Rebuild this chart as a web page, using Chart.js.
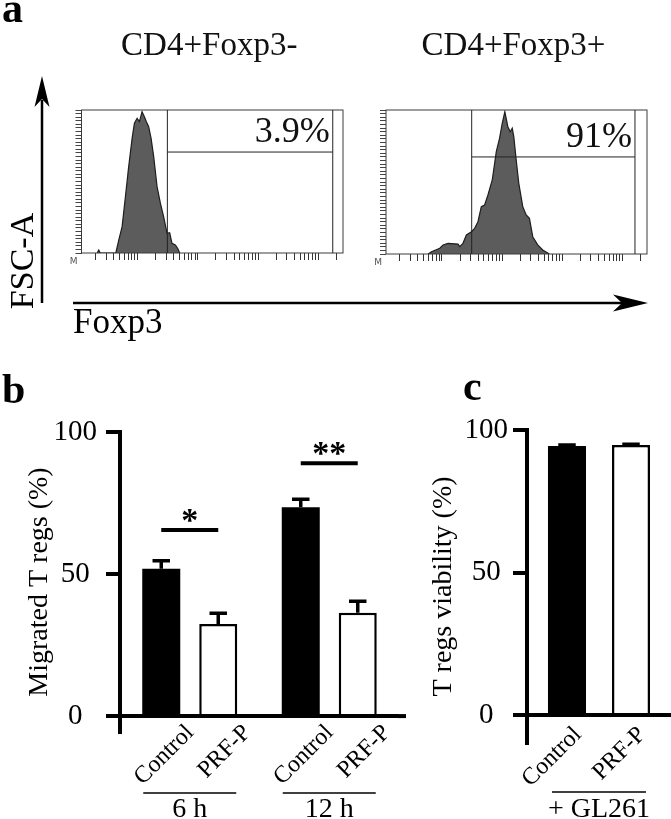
<!DOCTYPE html>
<html lang="en">
<head>
<meta charset="UTF-8">
<title>Treg migration and viability</title>
<style>
  body { margin: 0; background: #fff; }
  #page { position: relative; width: 671px; height: 819px; background: #fff; }
  #page canvas { position: absolute; left: 0; top: 0; }
</style>
</head>
<body>
<div id="page">
  <canvas id="histNeg" width="671" height="819"></canvas>
  <canvas id="histPos" width="671" height="819"></canvas>
  <canvas id="migration" width="671" height="819"></canvas>
  <canvas id="viability" width="671" height="819"></canvas>
</div>

<script src="https://cdn.jsdelivr.net/npm/chart.js"></script>
<script>
// ---- panel a: Foxp3 histograms (x = log decades, y = % of max count)
const histTitles = ['CD4+Foxp3-', 'CD4+Foxp3+'];
const negX = [0.33, 0.357, 0.38, 0.64, 0.688, 0.744, 0.799, 0.853, 0.91, 0.948, 0.993, 1.031, 1.075, 1.114,
              1.147, 1.185, 1.225, 1.268, 1.324, 1.379, 1.433, 1.49, 1.533, 1.572, 1.627, 1.665, 1.7];
const negY = [0, 2, 0, 0, 9, 18.4, 39.4, 60.4, 80.2, 90.7, 94.2, 91.9, 98.8, 95.3,
              91.8, 88.3, 80.2, 67.4, 46.4, 34.8, 25.4, 13.8, 14.2, 6.8, 5.6, 3.3, 0];
const posX = [0.771, 0.827, 0.964, 1.019, 1.102, 1.268, 1.296, 1.35, 1.407, 1.49, 1.544, 1.599, 1.655, 1.71,
              1.765, 1.837, 1.904, 1.958, 2.003, 2.046, 2.096, 2.136, 2.169, 2.195, 2.235, 2.278, 2.344,
              2.401, 2.455, 2.51, 2.593, 2.676, 2.787];
const posY = [0, 1.6, 4, 6.3, 7.4, 6.9, 5.1, 7.4, 13.2, 15.5, 17.8, 22.4, 32.9, 34,
              41, 51.4, 71.1, 80.3, 90.8, 98.8, 88.4, 84.9, 87.3, 81.5, 65.3, 49.1, 32.9,
              27.1, 24.8, 12, 6.3, 2.8, 0];
const gateFrom = [1.495, 1.495];
const gateTo = [4.24, 4.21];
const gateLevel = [70.6, 67.4];
const gateLabels = ['3.9%', '91%'];
const decades = [0, 1, 2, 3, 4];
const minorSteps = [1, 2, 3, 4, 5, 6, 7, 8, 9];

// ---- panel b: migrated Tregs
const timeGroups = ['6 h', '12 h'];
const treatments = ['Control', 'PRF-P'];
const migControl = [51.9, 73.5];
const migControlErr = [2.8, 2.8];
const migPrf = [32.4, 36.4];
const migPrfErr = [3.8, 4.0];
const sigLevel = [65.5, 89];
const sigMarks = ['*', '**'];

// ---- panel c: Treg viability
const viaGroups = ['+ GL261'];
const viaControl = [94.4];
const viaControlErr = [0.3];
const viaPrf = [94.7];
const viaPrfErr = [0.3];

const yTicks = [0, 50, 100];
const serif = 'Liberation Serif, Times New Roman, serif';

function histTickValues(min, max) {
  const out = [];
  decades.forEach(d => minorSteps.forEach(k => {
    const v = d + Math.log10(k);
    if (v >= min && v <= max) out.push({ value: v });
  }));
  return out;
}

function arrowHead(ctx, pts) {
  ctx.beginPath();
  ctx.moveTo(pts[0][0], pts[0][1]);
  pts.slice(1).forEach(p => ctx.lineTo(p[0], p[1]));
  ctx.closePath();
  ctx.fill();
}

// gate box, percentage, title for each histogram
const gatePlugin = {
  id: 'gate',
  afterDatasetsDraw(chart, args, opts) {
    const i = opts.index;
    const { ctx, chartArea: a, scales: { x, y } } = chart;
    ctx.save();
    ctx.strokeStyle = '#3c3c3c';
    ctx.lineWidth = 1;
    ctx.strokeRect(a.left, a.top, a.width, a.height);

    const gx0 = x.getPixelForValue(gateFrom[i]);
    const gx1 = x.getPixelForValue(gateTo[i]);
    const gy = y.getPixelForValue(gateLevel[i]);
    ctx.strokeStyle = '#222';
    ctx.beginPath();
    ctx.moveTo(gx0, a.top); ctx.lineTo(gx0, a.bottom);
    ctx.moveTo(gx1, a.top); ctx.lineTo(gx1, a.bottom);
    ctx.moveTo(gx0, gy); ctx.lineTo(gx1, gy);
    ctx.stroke();

    ctx.fillStyle = '#111';
    ctx.font = '36px ' + serif;
    ctx.textAlign = 'right';
    ctx.textBaseline = 'alphabetic';
    ctx.fillText(gateLabels[i], gx1 - 3, gy - 10);

    ctx.font = '33px ' + serif;
    ctx.textAlign = 'center';
    ctx.fillText(histTitles[i], (a.left + a.right) / 2 - 3, a.top - 55);

    ctx.font = '9px DejaVu Sans';
    ctx.fillStyle = '#555';
    ctx.textAlign = 'right';
    ctx.fillText('M', a.left - 4, a.bottom + 11);

    if (i === 0) {
      // panel letter, axis arrows and their labels
      ctx.fillStyle = '#000';
      ctx.strokeStyle = '#000';
      ctx.font = 'bold 42px ' + serif;
      ctx.textAlign = 'left';
      ctx.fillText('a', 2, 22);

      ctx.lineWidth = 2.5;
      ctx.beginPath();
      ctx.moveTo(42, 303); ctx.lineTo(42, 100);
      ctx.moveTo(73, 303); ctx.lineTo(625, 303);
      ctx.stroke();
      arrowHead(ctx, [[42, 76], [49.5, 107], [42, 99], [34.5, 107]]);
      arrowHead(ctx, [[648, 303], [613, 294.5], [622, 303], [613, 311.5]]);

      ctx.font = '35px ' + serif;
      ctx.fillText('Foxp3', 73, 333);
      ctx.font = '34px ' + serif;
      ctx.translate(33, 261);
      ctx.rotate(-Math.PI / 2);
      ctx.textAlign = 'center';
      ctx.fillText('FSC-A', 0, 0);
    }
    ctx.restore();
  }
};

function histChart(id, xs, ys, index, area) {
  const pts = xs.map((v, k) => ({ x: v, y: ys[k] }));
  return new Chart(document.getElementById(id), {
    type: 'line',
    data: {
      datasets: [{
        data: pts,
        fill: 'origin',
        backgroundColor: '#5c5c5c',
        borderColor: '#1e1e1e',
        borderWidth: 1.2,
        pointRadius: 0,
        tension: 0
      }]
    },
    options: {
      responsive: false,
      animation: false,
      layout: { padding: { left: area.l - 6, top: area.t, right: 671 - area.r, bottom: 819 - area.b - 8 } },
      plugins: { legend: { display: false }, tooltip: { enabled: false }, gate: { index } },
      scales: {
        x: {
          type: 'linear', min: 0.07, max: 4.41,
          afterBuildTicks: s => { s.ticks = histTickValues(0.07, 4.41); },
          afterFit: s => { s.height = 8; },
          ticks: { display: false },
          border: { display: false },
          grid: { drawOnChartArea: false, drawTicks: true, tickLength: 7, tickColor: '#333', tickWidth: 1 }
        },
        y: {
          min: 0, max: 100,
          afterBuildTicks: s => {
            const t = [];
            for (let v = 0; v <= 100; v += 2.5) t.push({ value: v });
            s.ticks = t;
          },
          afterFit: s => { s.width = 6; },
          ticks: { display: false },
          border: { display: false },
          grid: { drawOnChartArea: false, drawTicks: true, tickLength: 6, tickColor: '#444', tickWidth: 1 }
        }
      }
    },
    plugins: [gatePlugin]
  });
}

histChart('histNeg', negX, negY, 0, { l: 81.5, t: 110, r: 343, b: 253 });
histChart('histPos', posX, posY, 1, { l: 386, t: 110, r: 647, b: 254 });

// error bars, significance, bar labels and group underlines
const barDecor = {
  id: 'barDecor',
  afterDatasetsDraw(chart, args, o) {
    const { ctx, chartArea: a, scales: { y } } = chart;
    const zero = y.getPixelForValue(0);
    const metas = [chart.getDatasetMeta(0), chart.getDatasetMeta(1)];
    ctx.save();
    ctx.strokeStyle = '#000';
    ctx.fillStyle = '#000';

    // x axis runs a little past the last bar
    if (o.axisExt) {
      ctx.lineWidth = 4;
      ctx.beginPath();
      ctx.moveTo(a.right - 1, zero); ctx.lineTo(a.right + o.axisExt, zero);
      ctx.stroke();
    }

    // upper error bars
    ctx.lineWidth = 3.5;
    metas.forEach((meta, d) => {
      meta.data.forEach((bar, g) => {
        const top = y.getPixelForValue(o.values[d][g] + o.errors[d][g]);
        const half = bar.width * 0.23;
        ctx.beginPath();
        ctx.moveTo(bar.x, bar.y);
        ctx.lineTo(bar.x, top);
        ctx.moveTo(bar.x - half, top);
        ctx.lineTo(bar.x + half, top);
        ctx.stroke();
      });
    });

    // significance lines
    if (o.sig) {
      ctx.lineWidth = 4;
      ctx.font = 'bold 34px ' + serif;
      ctx.textAlign = 'center';
      ctx.textBaseline = 'alphabetic';
      o.sig.levels.forEach((lvl, g) => {
        const x0 = metas[0].data[g].x, x1 = metas[1].data[g].x;
        const py = y.getPixelForValue(lvl);
        ctx.beginPath();
        ctx.moveTo(x0, py); ctx.lineTo(x1, py);
        ctx.stroke();
        ctx.fillText(o.sig.marks[g], (x0 + x1) / 2, py + 1);
      });
    }

    // rotated treatment labels under each bar
    ctx.font = '24px ' + serif;
    ctx.textAlign = 'right';
    ctx.textBaseline = 'middle';
    metas.forEach((meta, d) => {
      meta.data.forEach(bar => {
        ctx.save();
        ctx.translate(bar.x + o.labelDx, zero + o.labelDy);
        ctx.rotate(-Math.PI / 4);
        ctx.fillText(treatments[d], 0, 0);
        ctx.restore();
      });
    });

    // group underline
    ctx.lineWidth = 1.5;
    metas[0].data.forEach((bar, g) => {
      const other = metas[1].data[g];
      ctx.beginPath();
      ctx.moveTo(bar.x - bar.width / 2 + o.lineInset, zero + 77);
      ctx.lineTo(other.x + other.width / 2 - o.lineInset, zero + 77);
      ctx.stroke();
    });

    ctx.font = 'bold 42px ' + serif;
    ctx.textAlign = 'left';
    ctx.textBaseline = 'alphabetic';
    ctx.fillText(o.letter, o.letterAt[0], o.letterAt[1]);
    ctx.restore();
  }
};

function barChart(id, s) {
  return new Chart(document.getElementById(id), {
    type: 'bar',
    data: {
      labels: s.groups,
      datasets: [
        { label: treatments[0], data: s.control, backgroundColor: '#000', borderWidth: 0 },
        { label: treatments[1], data: s.prf, backgroundColor: '#fff', borderColor: '#000',
          borderWidth: 2.5, borderSkipped: 'start' }
      ]
    },
    options: {
      responsive: false,
      animation: false,
      categoryPercentage: s.catPct,
      barPercentage: s.barPct,
      layout: { padding: { left: s.area.l - 100, top: s.area.t, right: 671 - s.area.r, bottom: 0 } },
      plugins: {
        legend: { display: false },
        tooltip: { enabled: false },
        barDecor: {
          values: [s.control, s.prf], errors: [s.controlErr, s.prfErr], sig: s.sig,
          labelDx: s.labelDx, labelDy: s.labelDy, letter: s.letter, letterAt: s.letterAt,
          axisExt: s.axisExt, lineInset: s.lineInset
        }
      },
      scales: {
        x: {
          // keep the group label from squeezing the plot area
          afterFit: sc => { sc.height = 819 - s.area.b; sc.paddingLeft = 0; sc.paddingRight = 0; },
          grid: { display: false, drawTicks: false },
          border: { display: false },
          ticks: { color: '#000', font: { family: serif, size: 28 }, padding: s.groupPad, maxRotation: 0, autoSkip: false }
        },
        y: {
          min: s.yMin, max: 100,
          afterBuildTicks: sc => { sc.ticks = yTicks.map(v => ({ value: v })); },
          afterFit: sc => { sc.width = 100; },
          border: { display: true, color: '#000', width: 4 },
          grid: {
            color: c => (c.tick && c.tick.value === 0 ? '#000' : 'rgba(0,0,0,0)'),
            lineWidth: 4, drawTicks: true, tickLength: 14, tickWidth: 4, tickColor: '#000'
          },
          ticks: { color: '#000', font: { family: serif, size: 29 }, padding: s.tickPad, crossAlign: 'center' },
          title: { display: true, text: s.yTitle, color: '#000', font: { family: serif, size: 28 },
                   padding: { top: s.titlePad, bottom: 0 } }
        }
      }
    },
    plugins: [barDecor]
  });
}

barChart('migration', {
  groups: timeGroups, control: migControl, controlErr: migControlErr, prf: migPrf, prfErr: migPrfErr,
  sig: { levels: sigLevel, marks: sigMarks },
  area: { l: 120, t: 432, r: 399, b: 732 }, yMin: -5.6,
  catPct: 0.817, barPct: 0.667, groupPad: 61, tickPad: 9, titlePad: 3, axisExt: 7, lineInset: 1,
  yTitle: 'Migrated T regs (%)', labelDx: 29, labelDy: 13, letter: 'b', letterAt: [2, 403]
});

barChart('viability', {
  groups: viaGroups, control: viaControl, controlErr: viaControlErr, prf: viaPrf, prfErr: viaPrfErr,
  sig: null,
  area: { l: 527, t: 430, r: 671, b: 743 }, yMin: -9.8,
  catPct: 0.889, barPct: 0.594, groupPad: 50, tickPad: 5, titlePad: 0, axisExt: 0, lineInset: 4,
  yTitle: 'T regs viability (%)', labelDx: 11, labelDy: 16, letter: 'c', letterAt: [463, 400]
});
</script>
</body>
</html>
